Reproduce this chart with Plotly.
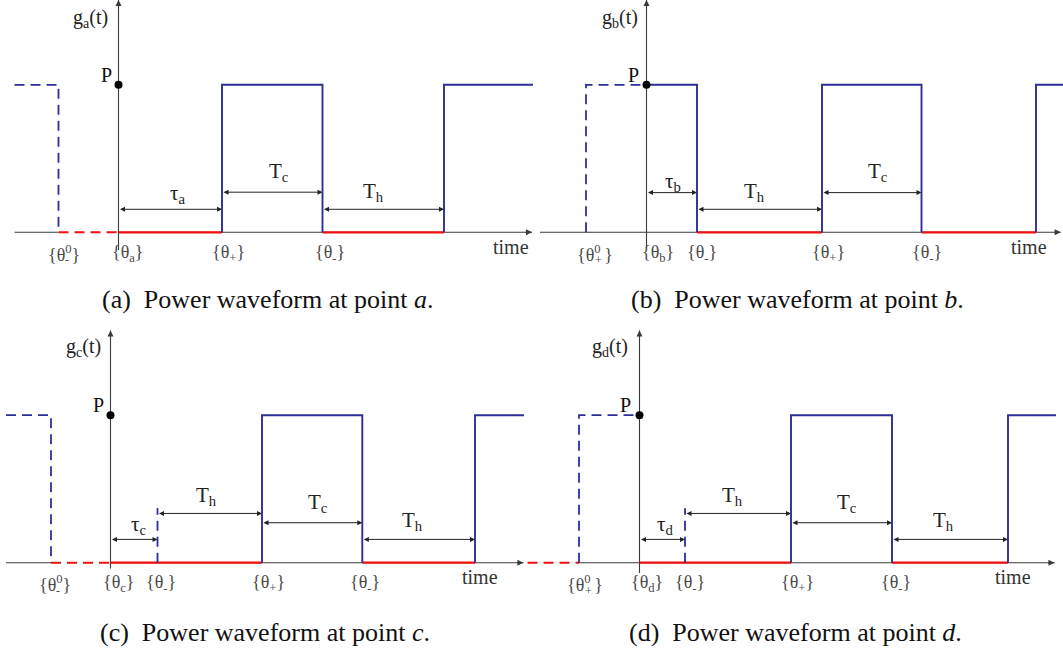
import plotly.graph_objects as go

W, H = 1063, 651

# ------------------------------------------------------------------
# DATA  (time in arbitrary units, level in units of P: 0 = off, 1 = P)
# ------------------------------------------------------------------
PANEL_IDS = ["a", "b", "c", "d"]

# panel (a)
A_HIST_T = [-10.4, -6.0, 0.0]          # start of history, theta^0, origin
A_HIST_LEVEL = [1, 0]                  # level before / after theta^0
A_T = [0.0, 10.35, 20.4, 32.55, 41.45]  # segment boundaries after origin
A_LEVEL = [0, 1, 0, 1]                 # level of each segment
A_AXIS_T = [-10.4, 41.35]
A_HIST_SIGN = "-"
A_TICK_NAMES = ["{θ<sub>a</sub>}", "{θ<sub>+</sub>}", "{θ<sub>-</sub>}"]
A_SPAN_NAMES = ["τ<sub>a</sub>", "T<sub>c</sub>", "T<sub>h</sub>"]

# panel (b)
B_HIST_T = [-10.65, -6.05, 0.0]
B_HIST_LEVEL = [None, 1]
B_T = [0.0, 5.05, 17.55, 27.5, 38.95, 41.65]
B_LEVEL = [1, 0, 1, 0, 1]
B_AXIS_T = [-10.65, 41.42]
B_HIST_SIGN = "+"
B_TICK_NAMES = ["{θ<sub>b</sub>}", "{θ<sub>-</sub>}", "{θ<sub>+</sub>}", "{θ<sub>-</sub>}"]
B_SPAN_NAMES = ["τ<sub>b</sub>", "T<sub>h</sub>", "T<sub>c</sub>"]

# panel (c)
C_HIST_T = [-10.45, -5.95, 0.0]
C_HIST_LEVEL = [1, 0]
C_T = [0.0, 4.7, 15.15, 25.18, 36.45, 41.35]
C_LEVEL = [0, 0, 1, 0, 1]
C_AXIS_T = [-10.45, 41.29]
C_HIST_SIGN = "-"
C_TICK_NAMES = ["{θ<sub>c</sub>}", "{θ<sub>-</sub>}", "{θ<sub>+</sub>}", "{θ<sub>-</sub>}"]
C_SPAN_NAMES = ["τ<sub>c</sub>", "T<sub>h</sub>", "T<sub>c</sub>", "T<sub>h</sub>"]

# panel (d)
D_HIST_T = [-11.2, -6.05, 0.0]
D_HIST_LEVEL = [0, 1]
D_T = [0.0, 4.55, 15.15, 25.25, 36.85, 41.65]
D_LEVEL = [0, 0, 1, 0, 1]
D_AXIS_T = [-11.2, 41.5]
D_HIST_SIGN = "+"
D_TICK_NAMES = ["{θ<sub>d</sub>}", "{θ<sub>-</sub>}", "{θ<sub>+</sub>}", "{θ<sub>-</sub>}"]
D_SPAN_NAMES = ["τ<sub>d</sub>", "T<sub>h</sub>", "T<sub>c</sub>", "T<sub>h</sub>"]

Y_NAMES = ["g<sub>a</sub>(t)", "g<sub>b</sub>(t)", "g<sub>c</sub>(t)", "g<sub>d</sub>(t)"]
CAPTIONS = ["(a)\u2002Power waveform at point <i>a</i>.",
            "(b)\u2002Power waveform at point <i>b</i>.",
            "(c)\u2002Power waveform at point <i>c</i>.",
            "(d)\u2002Power waveform at point <i>d</i>."]

# ------------------------------------------------------------------
# LAYOUT / STYLE
# ------------------------------------------------------------------
PX_T = 10.0      # pixels per time unit
PX_L = 147.5     # pixels per level unit
GEOM = {
    "a": dict(x0=0, x1=536, ox=118.5, y0=0, y1=320, by=232.3, ybot=-0.12),
    "b": dict(x0=536, x1=1063, ox=646.5, y0=0, y1=320, by=232.3, ybot=-0.11),
    "c": dict(x0=0, x1=527, ox=110.5, y0=320, y1=651, by=562.7, ybot=-0.04),
    "d": dict(x0=527, x1=1063, ox=639.5, y0=320, y1=651, by=562.7, ybot=-0.07),
}
Y_TOP = 1.575
MARK_H = 0.37
SPAN_Y = {"a": [0.156, 0.272, 0.156],
          "b": [0.269, 0.156, 0.269],
          "c": [0.158, 0.334, 0.271, 0.158],
          "d": [0.158, 0.334, 0.271, 0.158]}
SPAN_DX = {"a": [7, 7, -10], "b": [1, -5, 6], "c": [4, -3, 6, -6], "d": [3, -6, 5, -7]}
SPAN_DY = {"a": [15, 20, 17], "b": [11, 17, 21], "c": [14, 17, 20, 18], "d": [14, 17, 20, 18]}
TICK_DX = {"a": [9, 6, 7], "b": [11, 5, 6, 5], "c": [8, 3, 6, 3], "d": [7, 5, 6, 4]}
HIST_DX = {"a": 5, "b": 9, "c": 4, "d": 6}
P_POS = {"a": (106, 75), "b": (633, 75), "c": (98, 405), "d": (625, 405)}
G_POS = {"a": (90, 18), "b": (620, 18), "c": (83, 348), "d": (610, 348)}
TIME_POS = {"a": (511, 247), "b": (1029, 247), "c": (480, 577), "d": (1013, 577)}
CAP_POS = [(267, 299), (797, 299), (265, 632), (795, 632)]

BLUE = "#2e2e9a"
RED = "#f01010"
AXIS = "#3a3a3a"
SERIF = "Liberation Serif, Times New Roman, serif"
DASH = "10px,6px"

DATA = {
    "a": (A_HIST_T, A_HIST_LEVEL, A_T, A_LEVEL, A_AXIS_T, A_HIST_SIGN, A_TICK_NAMES, A_SPAN_NAMES),
    "b": (B_HIST_T, B_HIST_LEVEL, B_T, B_LEVEL, B_AXIS_T, B_HIST_SIGN, B_TICK_NAMES, B_SPAN_NAMES),
    "c": (C_HIST_T, C_HIST_LEVEL, C_T, C_LEVEL, C_AXIS_T, C_HIST_SIGN, C_TICK_NAMES, C_SPAN_NAMES),
    "d": (D_HIST_T, D_HIST_LEVEL, D_T, D_LEVEL, D_AXIS_T, D_HIST_SIGN, D_TICK_NAMES, D_SPAN_NAMES),
}

fig = go.Figure()
annotations = []
layout_axes = {}


def line(xs, ys, xa, ya, color, width, dash="solid"):
    fig.add_trace(go.Scatter(x=xs, y=ys, mode="lines", xaxis=xa, yaxis=ya,
                             line=dict(color=color, width=width, dash=dash),
                             hoverinfo="skip", showlegend=False))


for k, pid in enumerate(PANEL_IDS):
    g = GEOM[pid]
    hist_t, hist_lv, T, LV, axis_t, hsign, tick_names, span_names = DATA[pid]
    xa = "x" if k == 0 else f"x{k + 1}"
    ya = "y" if k == 0 else f"y{k + 1}"
    xkey = "xaxis" if k == 0 else f"xaxis{k + 1}"
    ykey = "yaxis" if k == 0 else f"yaxis{k + 1}"
    xr = [(g["x0"] - g["ox"]) / PX_T, (g["x1"] - g["ox"]) / PX_T]
    yr = [(g["by"] - g["y1"]) / PX_L, (g["by"] - g["y0"]) / PX_L]
    layout_axes[xkey] = dict(domain=[g["x0"] / W, g["x1"] / W], range=xr, visible=False,
                             anchor=ya, fixedrange=True)
    layout_axes[ykey] = dict(domain=[1 - g["y1"] / H, 1 - g["y0"] / H], range=yr, visible=False,
                             anchor=xa, fixedrange=True)

    def to_data(px, py, g=g):
        return (px - g["ox"]) / PX_T, (g["by"] - py) / PX_L

    # --- axes (x axis skips the dashed red history part) ---
    red_hist = []
    if hist_lv[0] == 0:
        red_hist.append((hist_t[0], hist_t[1]))
    if hist_lv[1] == 0:
        red_hist.append((hist_t[1], hist_t[2]))
    ax_x, ax_y = [], []
    start = axis_t[0]
    for (r0, r1) in red_hist:
        if r0 > start:
            ax_x += [start, r0, None]
            ax_y += [0, 0, None]
        start = max(start, r1)
    ax_x += [start, axis_t[1]]
    ax_y += [0, 0]
    ax_x += [None, 0, 0]
    ax_y += [None, g["ybot"], Y_TOP]
    line(ax_x, ax_y, xa, ya, AXIS, 1.1)

    # --- solid waveform ---
    rx, ry, bx, by_ = [], [], [], []
    mx, my = [], []
    n = len(LV)
    for i, lv in enumerate(LV):
        a, b = T[i], T[i + 1]
        if lv == 0:
            rx += [a, b, None]
            ry += [0, 0, None]
            if i > 0 and LV[i - 1] == 0:
                mx += [a, a, None]
                my += [0, MARK_H, None]
        else:
            xs, ys = [], []
            if i > 0 and LV[i - 1] == 0:
                xs.append(a); ys.append(0)
            xs += [a, b]; ys += [1, 1]
            if i < n - 1 and LV[i + 1] == 0:
                xs.append(b); ys.append(0)
            bx += xs + [None]
            by_ += ys + [None]
    line(rx, ry, xa, ya, RED, 2.2)
    line(bx, by_, xa, ya, BLUE, 1.9)

    # --- dashed history ---
    hrx, hry = [], []
    for (r0, r1) in red_hist:
        hrx += [r0, r1, None]
        hry += [0, 0, None]
    line(hrx, hry, xa, ya, RED, 2.0, DASH)
    if hist_lv[0] == 1:
        hbx = [hist_t[0], hist_t[1], hist_t[1]]
        hby = [1, 1, 0]
    else:
        hbx = [hist_t[1], hist_t[1], hist_t[2]]
        hby = [0, 1, 1]
    line(hbx + [None] + mx, hby + [None] + my, xa, ya, BLUE, 1.8, DASH)

    # --- point P ---
    fig.add_trace(go.Scatter(x=[0], y=[1], mode="markers", xaxis=xa, yaxis=ya,
                             marker=dict(color="black", size=8), hoverinfo="skip",
                             showlegend=False))

    # --- arrowheads on axes ---
    annotations.append(dict(x=axis_t[1], y=0, ax=axis_t[1] - 0.8, ay=0, xref=xa, yref=ya,
                            axref=xa, ayref=ya, text="", showarrow=True, arrowhead=2,
                            arrowsize=1.1, arrowwidth=1.1, arrowcolor=AXIS, standoff=0))
    annotations.append(dict(x=0, y=Y_TOP, ax=0, ay=Y_TOP - 0.06, xref=xa, yref=ya,
                            axref=xa, ayref=ya, text="", showarrow=True, arrowhead=2,
                            arrowsize=1.1, arrowwidth=1.1, arrowcolor=AXIS, standoff=0))

    # --- span arrows + labels ---
    for j, name in enumerate(span_names):
        a, b = T[j], T[j + 1]
        yl = SPAN_Y[pid][j]
        annotations.append(dict(x=b, y=yl, ax=a, ay=yl, xref=xa, yref=ya, axref=xa, ayref=ya,
                                text="", showarrow=True, arrowhead=2, arrowside="end+start",
                                arrowsize=1.0, arrowwidth=1.0, arrowcolor="#222",
                                standoff=0, startstandoff=0))
        annotations.append(dict(x=(a + b) / 2, y=yl, xref=xa, yref=ya, text=name,
                                showarrow=False, xshift=SPAN_DX[pid][j], yshift=SPAN_DY[pid][j],
                                font=dict(family=SERIF, size=21, color="#222"),
                                xanchor="center", yanchor="middle"))

    # --- tick labels ---
    for j, name in enumerate(tick_names):
        annotations.append(dict(x=T[j], y=0, xref=xa, yref=ya, text=name, showarrow=False,
                                xshift=TICK_DX[pid][j], yshift=-21,
                                font=dict(family=SERIF, size=18, color="#4a4a4a"),
                                xanchor="center", yanchor="middle"))
    tail = "}" if hsign == "-" else "\u2009}"
    annotations.append(dict(x=hist_t[1], y=0, xref=xa, yref=ya,
                            text="{θ<sup>0</sup>" + tail, showarrow=False,
                            xshift=HIST_DX[pid], yshift=-21,
                            font=dict(family=SERIF, size=18, color="#4a4a4a"),
                            xanchor="center", yanchor="middle"))
    annotations.append(dict(x=hist_t[1], y=0, xref=xa, yref=ya,
                            text=hsign, showarrow=False,
                            xshift=HIST_DX[pid] + 3, yshift=-28,
                            font=dict(family=SERIF, size=12, color="#4a4a4a"),
                            xanchor="center", yanchor="middle"))

    # --- P, g(t), time ---
    px, py = to_data(*P_POS[pid])
    annotations.append(dict(x=px, y=py, xref=xa, yref=ya, text="P", showarrow=False,
                            font=dict(family=SERIF, size=20, color="#111"),
                            xanchor="center", yanchor="middle"))
    gx, gy = to_data(*G_POS[pid])
    annotations.append(dict(x=gx, y=gy, xref=xa, yref=ya, text=Y_NAMES[k], showarrow=False,
                            font=dict(family=SERIF, size=20, color="#222"),
                            xanchor="center", yanchor="middle"))
    tx, ty = to_data(*TIME_POS[pid])
    annotations.append(dict(x=tx, y=ty, xref=xa, yref=ya, text="time", showarrow=False,
                            font=dict(family=SERIF, size=20, color="#333"),
                            xanchor="center", yanchor="middle"))

    # --- caption ---
    cx, cy = CAP_POS[k]
    annotations.append(dict(x=cx / W, y=1 - cy / H, xref="paper", yref="paper",
                            text=CAPTIONS[k], showarrow=False,
                            font=dict(family=SERIF, size=26, color="#111"),
                            xanchor="center", yanchor="middle"))

fig.update_layout(
    width=W, height=H, margin=dict(l=0, r=0, t=0, b=0),
    paper_bgcolor="white", plot_bgcolor="rgba(0,0,0,0)",
    showlegend=False, annotations=annotations, **layout_axes,
)
fig.write_html("out.html", config={"displayModeBar": False})
